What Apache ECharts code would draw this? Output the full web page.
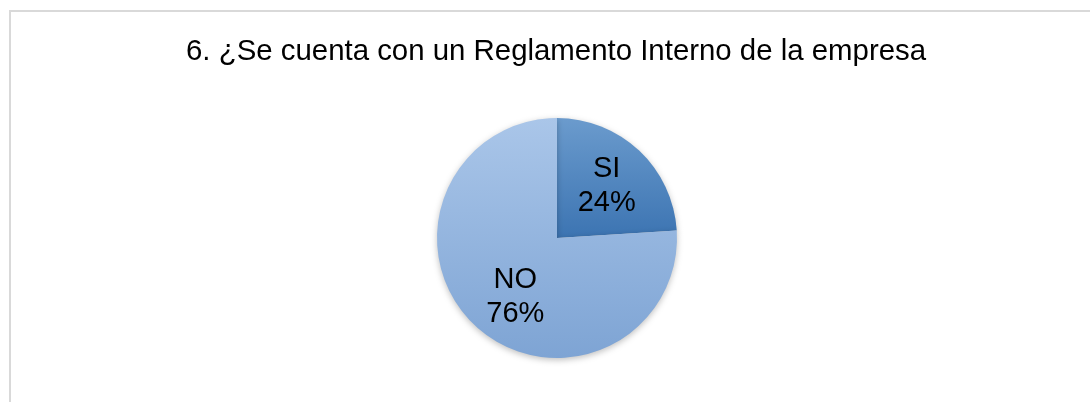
<!DOCTYPE html>
<html>
<head>
<meta charset="utf-8">
<script src="https://cdn.jsdelivr.net/npm/echarts@6/dist/echarts.min.js"></script>
<style>
html,body{margin:0;padding:0;background:#fff;}
#chart{width:1090px;height:402px;}
</style>
</head>
<body>
<div id="chart"></div>
<script>
var titleText = '6. ¿Se cuenta con un Reglamento Interno de la empresa';
var categories = ['SI', 'NO'];
var values = [24, 76];

var gradients = [
  ['#6b9bcd', '#3c74b2'],
  ['#aac6e9', '#7ea4d4']
];
var labelOffsets = [[-1, 2], [9, 5]];

function grad(c) {
  return new echarts.graphic.LinearGradient(0, 0, 0, 1, [
    {offset: 0, color: c[0]}, {offset: 1, color: c[1]}
  ]);
}

var pieData = categories.map(function (c, i) {
  return {name: c, value: values[i], itemStyle: {color: grad(gradients[i])}};
});
var labelData = categories.map(function (c, i) {
  return {name: c, value: values[i], label: {offset: labelOffsets[i]}};
});

var chart = echarts.init(document.getElementById('chart'), null, {renderer: 'canvas'});
chart.setOption({
  animation: false,
  backgroundColor: '#ffffff',
  title: {
    text: titleText,
    left: 181,
    top: 32,
    textStyle: {fontFamily: 'Liberation Sans, Arial, sans-serif', fontSize: 29.4, fontWeight: 'normal', color: '#000000'}
  },
  graphic: [{
    type: 'rect',
    shape: {x: 10, y: 11, width: 1200, height: 600},
    style: {fill: 'none', stroke: '#d9d9d9', lineWidth: 2},
    silent: true,
    z: -1
  }],
  series: [{
    type: 'pie',
    center: [557, 238],
    radius: [0, 120],
    startAngle: 90,
    clockwise: true,
    label: {show: false},
    labelLine: {show: false},
    itemStyle: {
      borderWidth: 0,
      shadowBlur: 6,
      shadowOffsetY: 2,
      shadowColor: 'rgba(0,0,0,0.25)'
    },
    emphasis: {disabled: true},
    data: pieData
  }, {
    type: 'pie',
    center: [557, 238],
    radius: [0, 142],
    startAngle: 90,
    clockwise: true,
    silent: true,
    itemStyle: {color: 'rgba(0,0,0,0)'},
    label: {
      show: true,
      position: 'inside',
      formatter: function (p) { return p.name + '\n' + Math.round(p.percent) + '%'; },
      fontFamily: 'Liberation Sans, Arial, sans-serif',
      fontSize: 29,
      lineHeight: 34,
      color: '#000000'
    },
    labelLine: {show: false},
    emphasis: {disabled: true},
    data: labelData
  }]
});
</script>
</body>
</html>
